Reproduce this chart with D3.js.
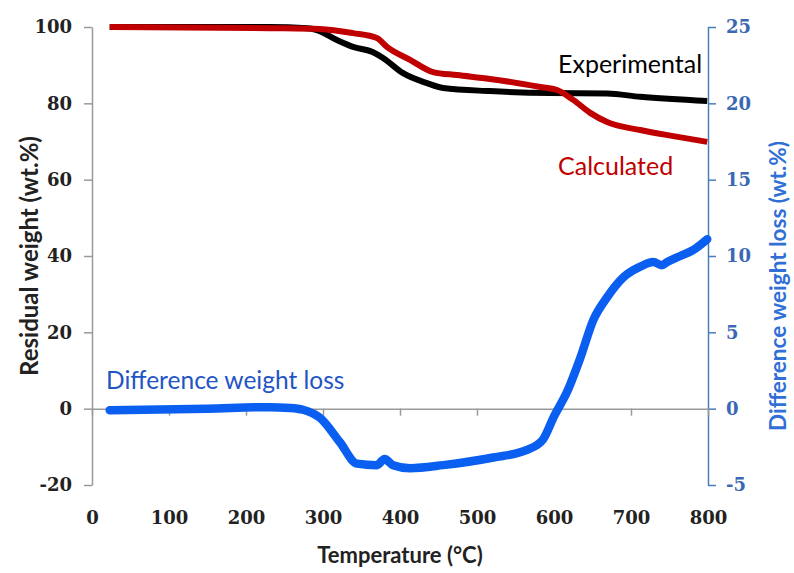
<!DOCTYPE html>
<html>
<head>
<meta charset="utf-8">
<script src="https://cdn.jsdelivr.net/npm/d3@7"></script>
<style>
  body { margin: 0; background: #fff; }
  .tick text { font-family: "DejaVu Serif", serif; font-weight: bold; font-size: 18px; }
</style>
</head>
<body>
<div id="chart"></div>
<script>
// temperature (°C) and residual weight (wt.%)
var expTemp = [23, 230, 280, 292, 318, 339, 365, 378, 404, 435, 456, 517, 595, 669, 712, 799];
var expWeight = [100, 100, 99.7, 99.2, 96.6, 94.8, 93.4, 91.9, 87.9, 85.3, 84.0, 83.2, 82.7, 82.6, 81.7, 80.6];

var calcTemp = [23, 231, 296, 339, 370, 383, 413, 443, 474, 517, 582, 604, 625, 647, 669, 712, 755, 799];
var calcWeight = [100, 99.7, 99.5, 98.4, 97.1, 94.8, 91.4, 88.2, 87.4, 86.4, 84.3, 83.5, 80.9, 77.5, 75.1, 73.0, 71.4, 69.9];

// difference weight loss (wt.%), right axis
var diffTemp = [23, 150, 230, 257, 274, 296, 322, 344, 370, 380, 391, 413, 456, 521, 565, 586, 600, 617, 634, 651, 669, 690, 712, 729, 740, 747, 764, 781, 799];
var diffLoss = [-0.1, 0, 0.1, 0.05, -0.07, -0.6, -2.2, -3.6, -3.7, -3.3, -3.7, -3.9, -3.7, -3.2, -2.7, -2.0, -0.5, 1.1, 3.3, 5.8, 7.3, 8.6, 9.3, 9.6, 9.4, 9.6, 10.0, 10.4, 11.1];

var xTicks = [0, 100, 200, 300, 400, 500, 600, 700, 800];
var leftTicks = [-20, 0, 20, 40, 60, 80, 100];
var rightTicks = [-5, 0, 5, 10, 15, 20, 25];

var width = 794, height = 573;
var margin = {top: 27, right: 86, bottom: 88, left: 92};
var plain = d => String(d);   // keep the hyphen minus like the original

var svg = d3.select("#chart").append("svg")
    .attr("width", width)
    .attr("height", height);

var x = d3.scaleLinear().domain([0, 800]).range([margin.left, width - margin.right]);
var yL = d3.scaleLinear().domain([-20, 100]).range([height - margin.bottom, margin.top]);
var yR = d3.scaleLinear().domain([-5, 25]).range([height - margin.bottom, margin.top]);

// left axis
var gL = svg.append("g")
    .attr("transform", `translate(${margin.left},0)`)
    .call(d3.axisLeft(yL).tickValues(leftTicks).tickFormat(plain).tickSize(8).tickPadding(12).tickSizeOuter(0));
gL.select(".domain").attr("stroke", "#9a9a9a").attr("stroke-width", 1.5);
gL.selectAll(".tick line").attr("stroke", "#9a9a9a").attr("stroke-width", 1.5);
gL.selectAll(".tick text").attr("fill", "#222");

// right axis
var gR = svg.append("g")
    .attr("transform", `translate(${width - margin.right},0)`)
    .call(d3.axisRight(yR).tickValues(rightTicks).tickFormat(plain).tickSize(8).tickPadding(10).tickSizeOuter(0));
gR.select(".domain").attr("stroke", "#4a7ebb").attr("stroke-width", 1.5);
gR.selectAll(".tick line").attr("stroke", "#4a7ebb").attr("stroke-width", 1.5);
gR.selectAll(".tick text").attr("fill", "#3a68b4");

// horizontal axis line through zero, ticks hanging down
var gZ = svg.append("g")
    .attr("transform", `translate(0,${yL(0)})`)
    .call(d3.axisBottom(x).tickValues(xTicks).tickSize(7).tickFormat("").tickSizeOuter(0));
gZ.select(".domain").attr("stroke", "#9a9a9a").attr("stroke-width", 1.5);
gZ.selectAll(".tick line").attr("stroke", "#9a9a9a").attr("stroke-width", 1.5);

// x tick labels sit at the bottom of the plot
var gX = svg.append("g")
    .attr("transform", `translate(0,${height - margin.bottom})`)
    .call(d3.axisBottom(x).tickValues(xTicks).tickFormat(plain).tickSize(0).tickPadding(26));
gX.select(".domain").remove();
gX.selectAll(".tick text").attr("fill", "#222");

// curves
var lineL = d3.line().x(d => x(d[0])).y(d => yL(d[1])).curve(d3.curveMonotoneX);
var lineR = d3.line().x(d => x(d[0])).y(d => yR(d[1])).curve(d3.curveMonotoneX);

svg.append("path")
    .datum(d3.zip(expTemp, expWeight))
    .attr("d", lineL)
    .attr("fill", "none")
    .attr("stroke", "#000")
    .attr("stroke-width", 6);

svg.append("path")
    .datum(d3.zip(calcTemp, calcWeight))
    .attr("d", lineL)
    .attr("fill", "none")
    .attr("stroke", "#c00000")
    .attr("stroke-width", 6);

svg.append("path")
    .datum(d3.zip(diffTemp, diffLoss))
    .attr("d", lineR)
    .attr("fill", "none")
    .attr("stroke", "#0a5ff0")
    .attr("stroke-width", 8.5)
    .attr("stroke-linecap", "round");

// labels in the plot
var sans = "Lato, 'Open Sans', sans-serif";
svg.append("text").attr("x", 558).attr("y", 73)
    .style("font-family", sans).style("font-size", "25px").attr("fill", "#000")
    .text("Experimental");
svg.append("text").attr("x", 558).attr("y", 175)
    .style("font-family", sans).style("font-size", "25px").attr("fill", "#c00000")
    .text("Calculated");
svg.append("text").attr("x", 106).attr("y", 389)
    .style("font-family", sans).style("font-size", "24.5px").attr("fill", "#1f55c4")
    .text("Difference weight loss");

// axis titles
svg.append("text")
    .attr("x", (margin.left + width - margin.right) / 2).attr("y", 563)
    .attr("text-anchor", "middle")
    .style("font-family", sans).style("font-size", "22px").style("font-weight", "bold")
    .attr("fill", "#222")
    .text("Temperature (°C)");

svg.append("text")
    .attr("transform", `translate(38,${(margin.top + height - margin.bottom) / 2}) rotate(-90)`)
    .attr("text-anchor", "middle")
    .style("font-family", sans).style("font-size", "24px").style("font-weight", "bold")
    .attr("fill", "#222")
    .text("Residual weight (wt.%)");

svg.append("text")
    .attr("transform", `translate(786,${(margin.top + height - margin.bottom) / 2 + 30}) rotate(-90)`)
    .attr("text-anchor", "middle")
    .style("font-family", sans).style("font-size", "22.5px").style("font-weight", "bold")
    .attr("fill", "#2f6fd6")
    .text("Difference weight loss (wt.%)");
</script>
</body>
</html>
